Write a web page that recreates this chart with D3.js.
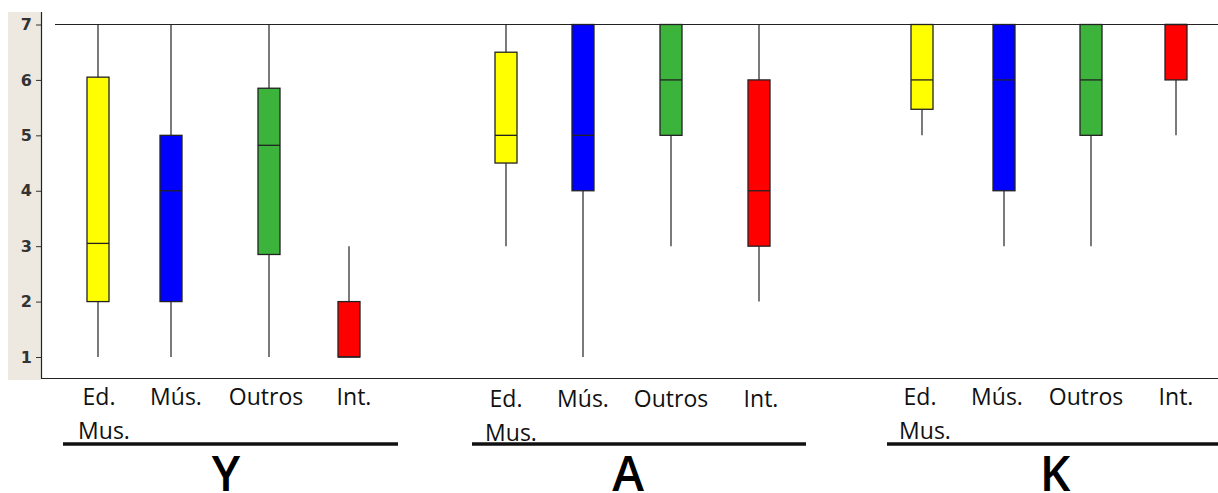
<!DOCTYPE html>
<html>
<head>
<meta charset="utf-8">
<script src="https://cdn.jsdelivr.net/npm/d3@7"></script>
<style>
  body { margin: 0; background: #fff; }
  svg { display: block; }
</style>
</head>
<body>
<div id="chart"></div>
<script>
// groups and categories
var groups = ["Y", "A", "K"];
var categories = ["Ed. Mus.", "Mús.", "Outros", "Int."];
var colors = ["#ffff00", "#0000ff", "#3cb43c", "#ff0000"];
var yTicks = [1, 2, 3, 4, 5, 6, 7];

// five-number summaries per group, in category order: [min, q1, median, q3, max]
var statsY = [[1, 2, 3.05, 6.05, 7], [1, 2, 4, 5, 7], [1, 2.85, 4.82, 5.85, 7], [1, 1, 1, 2, 3]];
var statsA = [[3, 4.5, 5, 6.5, 7], [1, 4, 5, 7, 7], [3, 5, 6, 7, 7], [2, 3, 4, 6, 7]];
var statsK = [[5, 5.47, 6, 7, 7], [3, 4, 6, 7, 7], [3, 5, 6, 7, 7], [5, 6, 7, 7, 7]];
var allStats = [statsY, statsA, statsK];

// box centres
var boxCenters = [[98, 171, 269, 349], [506, 583, 671, 759], [922, 1004, 1091, 1176]];
var labelCenters = [[99, 176, 266, 354], [506, 583, 671, 761], [920, 997, 1086, 1176]];
var underline = [[63, 398], [472, 806], [887, 1218]];
var letterCenters = [226, 628, 1055];

var width = 1218, height = 493;

var svg = d3.select("#chart")
  .append("svg")
  .attr("width", width)
  .attr("height", height);

var y = d3.scaleLinear()
  .domain([1, 7])
  .range([357, 24.5]);

// gray strip behind the y axis
svg.append("rect")
  .attr("x", 8).attr("y", 12)
  .attr("width", 33).attr("height", 368)
  .attr("fill", "#ede9e1");

// y axis
var yAxis = svg.append("g")
  .attr("transform", "translate(41,0)")
  .call(d3.axisLeft(y).tickValues(yTicks).tickFormat(d3.format("d")).tickSize(5).tickSizeOuter(0));
yAxis.select(".domain").remove();
yAxis.selectAll("line").attr("stroke", "#333");
yAxis.selectAll("text")
  .attr("fill", "#333")
  .style("font-family", "DejaVu Sans")
  .style("font-weight", "bold")
  .style("font-size", "16px")
  .attr("x", -9);

svg.append("line")
  .attr("x1", 41.5).attr("x2", 41.5)
  .attr("y1", 12).attr("y2", 378.5)
  .attr("stroke", "#222").attr("stroke-width", 1.2);

// bottom axis line
svg.append("line")
  .attr("x1", 41).attr("x2", width)
  .attr("y1", 378.5).attr("y2", 378.5)
  .attr("stroke", "#222").attr("stroke-width", 1.2);

// top reference line at 7
svg.append("line")
  .attr("x1", 55).attr("x2", width)
  .attr("y1", y(7)).attr("y2", y(7))
  .attr("stroke", "#222").attr("stroke-width", 1.2);

var boxW = 22;

allStats.forEach(function(stats, g) {
  stats.forEach(function(s, i) {
    var cx = boxCenters[g][i];
    var gg = svg.append("g");

    // whiskers
    gg.append("line")
      .attr("x1", cx).attr("x2", cx)
      .attr("y1", y(s[4])).attr("y2", y(s[3]))
      .attr("stroke", "#222").attr("stroke-width", 1.2);
    gg.append("line")
      .attr("x1", cx).attr("x2", cx)
      .attr("y1", y(s[1])).attr("y2", y(s[0]))
      .attr("stroke", "#222").attr("stroke-width", 1.2);

    // box
    gg.append("rect")
      .attr("x", cx - boxW / 2)
      .attr("y", y(s[3]))
      .attr("width", boxW)
      .attr("height", y(s[1]) - y(s[3]))
      .attr("fill", colors[i])
      .attr("stroke", "#222")
      .attr("stroke-width", 1.3);

    // median
    gg.append("line")
      .attr("x1", cx - boxW / 2).attr("x2", cx + boxW / 2)
      .attr("y1", y(s[2])).attr("y2", y(s[2]))
      .attr("stroke", "#222").attr("stroke-width", 1.3);

    // category label
    var words = i === 0 ? categories[i].split(" ") : [categories[i]];
    var t = svg.append("text")
      .attr("text-anchor", "middle")
      .attr("fill", "#111")
      .style("font-family", "Open Sans")
      .style("font-size", "23px");
    words.forEach(function(w, k) {
      t.append("tspan")
        .attr("x", labelCenters[g][i] + (k === 1 ? 5 : 0))
        .attr("y", 405 + (g === 1 ? 2 : 0) + k * 34)
        .text(w);
    });
  });

  // group underline
  svg.append("line")
    .attr("x1", underline[g][0]).attr("x2", underline[g][1])
    .attr("y1", 444).attr("y2", 444)
    .attr("stroke", "#111").attr("stroke-width", 3.5);

  // group letter
  svg.append("text")
    .attr("x", letterCenters[g])
    .attr("y", 491)
    .attr("text-anchor", "middle")
    .attr("fill", "#000")
    .style("font-family", "Open Sans")
    .style("font-weight", "600")
    .style("font-size", "48px")
    .text(groups[g]);
});
</script>
</body>
</html>
